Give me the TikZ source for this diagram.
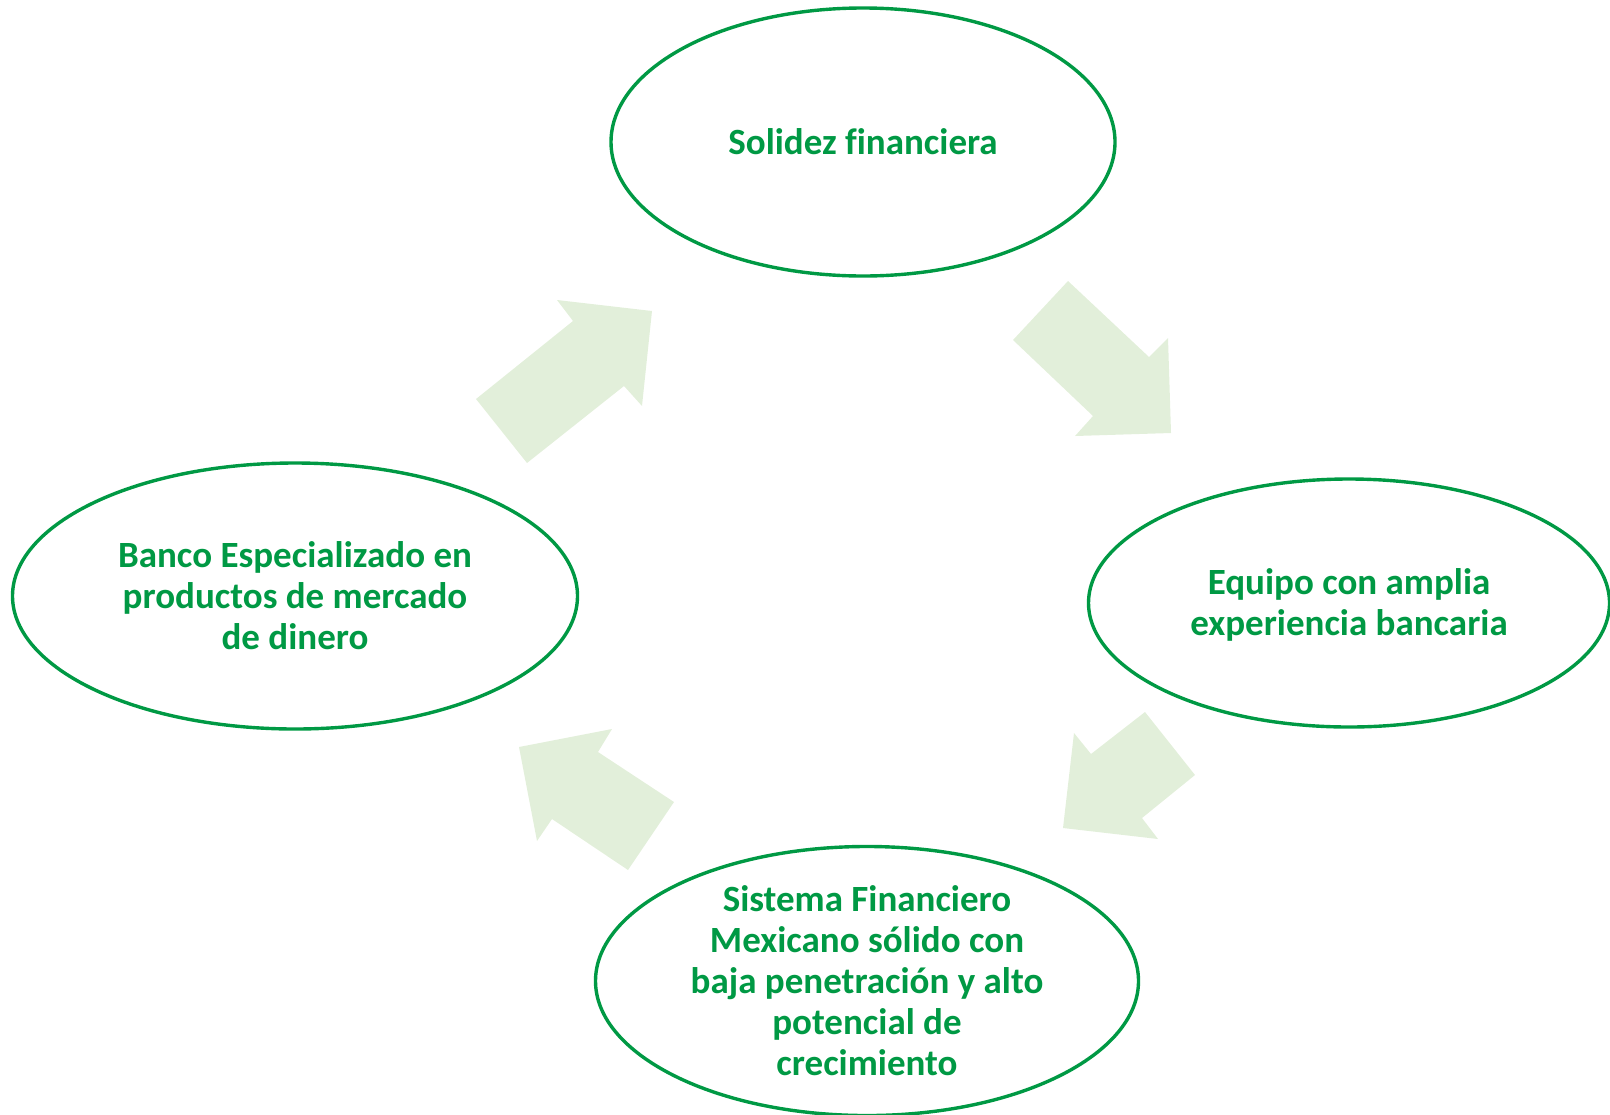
\documentclass[tikz,border=0pt]{standalone}
\usepackage{fontspec}
\setmainfont[Ligatures=NoCommon]{Carlito}
\usepackage{tikz}
\usetikzlibrary{shapes,positioning}
\definecolor{verde}{RGB}{0,153,68}
\definecolor{verdeclaro}{RGB}{226,239,218}

\begin{document}
\begin{tikzpicture}[x=0.5pt, y=-0.5pt,
        idea/.style={ellipse, draw=verde, fill=white, line width=1.7pt, inner sep=0pt,
            align=center, text=verde, font=\bfseries\fontsize{18.5}{20.5}\selectfont},
        flecha/.style={fill=verdeclaro}]
        \useasboundingbox (0,0) rectangle (1610,1114);

        % Flechas
        \fill [flecha] (476,399) -- (573,321) -- (557,300) -- (652,311) -- (642,406) -- (624,386) -- (527,463) -- cycle;
        \fill [flecha] (1068,281) -- (1149,357) -- (1168,338) -- (1171,433) -- (1075,436) -- (1093,416) -- (1013,340) -- cycle;
        \fill [flecha] (1145,712) -- (1195,775) -- (1142,818) -- (1158,839) -- (1063,828) -- (1074,733) -- (1091,754) -- cycle;
        \fill [flecha] (674,802) -- (628,870) -- (552,819) -- (537,841) -- (519,747) -- (612,729) -- (598,752) -- cycle;

        % Elipses
        \node [idea, minimum width=252pt, minimum height=134pt] (solidez) at (863,142) {Solidez financiera};
        \node [idea, minimum width=260.5pt, minimum height=124pt] (equipo) at (1349,603) {};
        \node [align=center, text=verde, font=\bfseries\fontsize{18.5}{20.5}\selectfont] (equipotexto) at (1349,605) {Equipo con amplia\\experiencia bancaria};
        \node [idea, minimum width=271.5pt, minimum height=133.5pt] (sistema) at (867,981) {Sistema Financiero\\Mexicano s\'olido con\\baja penetraci\'on y alto\\potencial de\\crecimiento};
        \node [idea, minimum width=282.5pt, minimum height=133pt] (banco) at (295,596) {Banco Especializado en\\productos de mercado\\de dinero};
    \end{tikzpicture}
\end{document}
